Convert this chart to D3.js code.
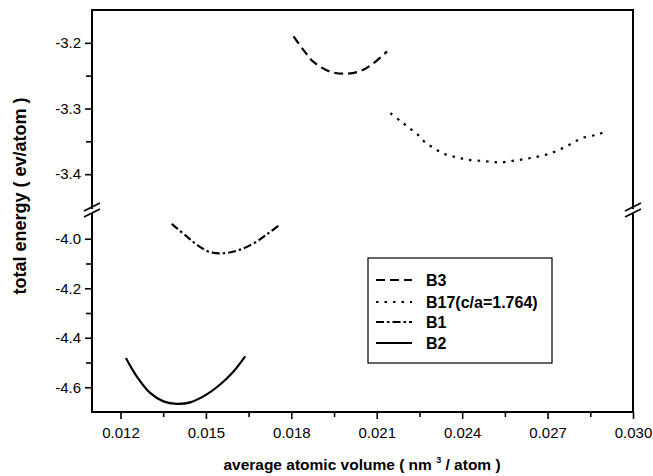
<!DOCTYPE html>
<html>
<head>
<meta charset="utf-8">
<script src="https://cdn.jsdelivr.net/npm/d3@7"></script>
<style>
  html, body { margin: 0; padding: 0; background: #fff; }
  svg { display: block; font-family: "Liberation Sans", Arial, sans-serif; }
</style>
</head>
<body>
<svg id="chart" width="653" height="476"></svg>
<script>
// Energy vs. volume curves for four structures (broken energy axis)
const seriesNames = ["B3", "B17(c/a=1.764)", "B1", "B2"];

const volB3  = [0.01808, 0.01843, 0.01878, 0.01937, 0.01990, 0.02043, 0.02089, 0.02136];
const eB3    = [-3.190, -3.211, -3.229, -3.244, -3.247, -3.243, -3.231, -3.213];

const volB17 = [0.02148, 0.02183, 0.02212, 0.02242, 0.02271, 0.02300, 0.02330, 0.02359, 0.02388, 0.02418, 0.02476, 0.02531, 0.02588, 0.02646, 0.02705, 0.02764, 0.02822, 0.02881, 0.02910];
const eB17   = [-3.307, -3.319, -3.329, -3.339, -3.352, -3.360, -3.368, -3.372, -3.375, -3.378, -3.380, -3.382, -3.379, -3.375, -3.369, -3.358, -3.345, -3.339, -3.333];

const volB1  = [0.01380, 0.01433, 0.01468, 0.01515, 0.01568, 0.01620, 0.01679, 0.01720, 0.01759];
const eB1    = [-3.940, -3.991, -4.024, -4.054, -4.058, -4.044, -4.011, -3.977, -3.944];

const volB2  = [0.01219, 0.01257, 0.01304, 0.01351, 0.01398, 0.01445, 0.01503, 0.01550, 0.01597, 0.01638];
const eB2    = [-4.482, -4.556, -4.623, -4.657, -4.667, -4.661, -4.629, -4.589, -4.536, -4.475];

const xTicks      = [0.012, 0.015, 0.018, 0.021, 0.024, 0.027, 0.030];
const xMinorTicks = [0.0135, 0.0165, 0.0195, 0.0225, 0.0255, 0.0285];
const yUpperTicks = [-3.2, -3.3, -3.4];
const yUpperMinor = [-3.25, -3.35];
const yLowerTicks = [-4.0, -4.2, -4.4, -4.6];
const yLowerMinor = [-4.1, -4.3, -4.5];

const svg = d3.select("#chart");
const L = 92, R = 633, T = 10, B = 412;

const x = d3.scaleLinear().domain([0.011, 0.030]).range([L, R]);
// upper and lower panels of the broken energy axis
const yUp = d3.scaleLinear().domain([-3.45, -3.15]).range([207, T]);
const yLo = d3.scaleLinear().domain([-4.7, -3.9]).range([B, 214]);

const series = [
  { name: seriesNames[0], xs: volB3,  ys: eB3,  y: yUp, dash: "9,5" },
  { name: seriesNames[1], xs: volB17, ys: eB17, y: yUp, dash: "2.5,6" },
  { name: seriesNames[2], xs: volB1,  ys: eB1,  y: yLo, dash: "8,3,2.5,3" },
  { name: seriesNames[3], xs: volB2,  ys: eB2,  y: yLo, dash: null }
];

// curves
series.forEach(s => {
  const pts = s.xs.map((v, i) => [v, s.ys[i]]);
  const line = d3.line()
    .x(d => x(d[0]))
    .y(d => s.y(d[1]))
    .curve(d3.curveCatmullRom.alpha(0.5));
  svg.append("path")
    .attr("d", line(pts))
    .attr("fill", "none")
    .attr("stroke", "#000")
    .attr("stroke-width", 2.2)
    .attr("stroke-dasharray", s.dash);
});

// frame
const axisStyle = g => g.attr("stroke", "#000").attr("stroke-width", 2);
svg.append("line").attr("x1", L - 1).attr("x2", R + 1).attr("y1", T).attr("y2", T).call(axisStyle);
svg.append("line").attr("x1", L - 1).attr("x2", R + 1).attr("y1", B).attr("y2", B).call(axisStyle);
[L, R].forEach(xx => {
  svg.append("line").attr("x1", xx).attr("x2", xx).attr("y1", T).attr("y2", 209).call(axisStyle);
  svg.append("line").attr("x1", xx).attr("x2", xx).attr("y1", 213).attr("y2", B).call(axisStyle);
  // break marks
  [207, 213].forEach(yy => {
    svg.append("line")
      .attr("x1", xx - 8).attr("y1", yy + 4)
      .attr("x2", xx + 8).attr("y2", yy - 4)
      .attr("stroke", "#000").attr("stroke-width", 1.6);
  });
});

// x axis
const xAxis = d3.axisBottom(x).tickValues(xTicks).tickFormat(d => d.toFixed(3)).tickSize(7).tickPadding(8);
const gx = svg.append("g").attr("transform", `translate(0,${B})`).call(xAxis);
gx.select(".domain").remove();
gx.selectAll(".tick line").attr("stroke-width", 1.6);
gx.selectAll("text").attr("font-size", 15).attr("fill", "#000");
const gxm = svg.append("g").attr("transform", `translate(0,${B})`)
  .call(d3.axisBottom(x).tickValues(xMinorTicks).tickSize(5).tickFormat(""));
gxm.select(".domain").remove();
gxm.selectAll(".tick line").attr("stroke-width", 1.6);

// y axes (two panels); plain hyphen for the minus sign
[[yUp, yUpperTicks, yUpperMinor], [yLo, yLowerTicks, yLowerMinor]].forEach(([sc, maj, minr]) => {
  const g = svg.append("g").attr("transform", `translate(${L},0)`)
    .call(d3.axisLeft(sc).tickValues(maj).tickFormat(d => d.toFixed(1)).tickSize(7).tickPadding(4));
  g.select(".domain").remove();
  g.selectAll(".tick line").attr("stroke-width", 1.6);
  g.selectAll("text").attr("font-size", 15).attr("fill", "#000");
  const gm = svg.append("g").attr("transform", `translate(${L},0)`)
    .call(d3.axisLeft(sc).tickValues(minr).tickSize(6).tickFormat(""));
  gm.select(".domain").remove();
  gm.selectAll(".tick line").attr("stroke-width", 1.6);
});

// axis titles
svg.append("text")
  .attr("transform", `translate(26,196) rotate(-90)`)
  .attr("text-anchor", "middle")
  .attr("font-size", 18).attr("font-weight", "bold")
  .text("total energy ( ev/atom )");

const xt = svg.append("text")
  .attr("x", 362).attr("y", 470)
  .attr("text-anchor", "middle")
  .attr("font-size", 15.5).attr("font-weight", "bold");
xt.append("tspan").text("average atomic volume ( nm ");
xt.append("tspan").attr("font-size", 9).attr("dy", -7).text("3");
xt.append("tspan").attr("dy", 7).text(" / atom )");

// legend
const lg = svg.append("g");
lg.append("rect")
  .attr("x", 368).attr("y", 258).attr("width", 184).attr("height", 105)
  .attr("fill", "#fff").attr("stroke", "#000").attr("stroke-width", 1.2);
const legendY = [280, 302, 322, 343];
series.forEach((s, i) => {
  lg.append("line")
    .attr("x1", 376).attr("x2", 412)
    .attr("y1", legendY[i]).attr("y2", legendY[i])
    .attr("stroke", "#000").attr("stroke-width", 2)
    .attr("stroke-dasharray", s.dash);
  lg.append("text")
    .attr("x", 426).attr("y", legendY[i] + 6)
    .attr("font-size", 16).attr("font-weight", "bold")
    .text(s.name);
});
</script>
</body>
</html>
